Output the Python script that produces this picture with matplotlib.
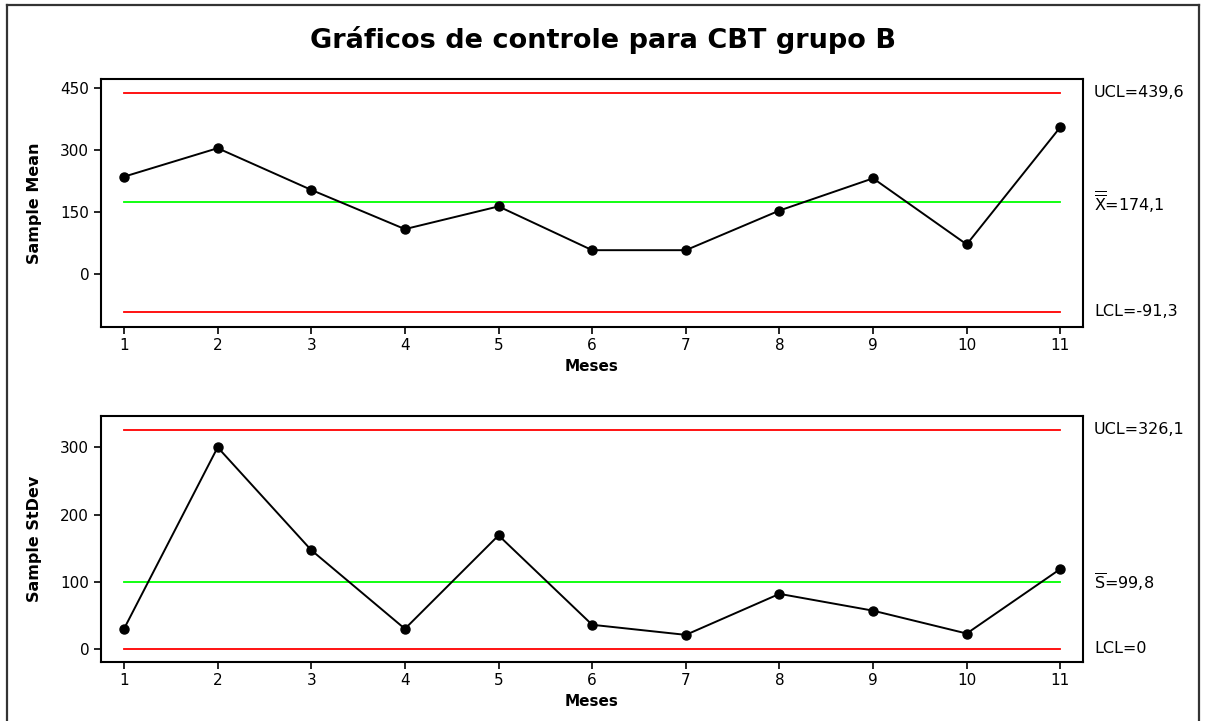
import matplotlib
matplotlib.use("Agg")
import matplotlib.pyplot as plt
from matplotlib.lines import Line2D

plt.rcParams["font.family"] = ["DejaVu Sans"]
plt.rcParams["mathtext.fontset"] = "dejavusans"

# ── Data ──────────────────────────────────────────────────────────────────────
meses = list(range(1, 12))
sample_mean = [236, 305, 204, 109, 164, 58, 58, 154, 232, 72, 356]
sample_sd = [30, 300, 147, 30, 169, 36, 21, 82, 57, 23, 119]

xbar_lim = {"UCL": 439.6, "CL": 174.1, "LCL": -91.3}
s_lim = {"UCL": 326.1, "CL": 99.8, "LCL": 0}

xbar_labels = ["UCL=439,6", r"$\overline{\overline{\mathrm{X}}}$=174,1", "LCL=-91,3"]
s_labels = ["UCL=326,1", r"$\overline{\mathrm{S}}$=99,8", "LCL=0"]

W, H = 1206, 721
fig = plt.figure(figsize=(W / 100, H / 100), dpi=100)

# outer frame (open at bottom)
for xs, ys in [([7 / W, 7 / W], [0, 1 - 5 / H]),
               ([7 / W, 1199 / W], [1 - 5 / H, 1 - 5 / H]),
               ([1199 / W, 1199 / W], [0, 1 - 5 / H])]:
    fig.add_artist(Line2D(xs, ys, color="#333333", lw=1.6))

fig.text(0.5, 1 - 40 / H, "Gráficos de controle para CBT grupo B",
         ha="center", va="center", fontsize=19.5, fontweight="bold")


def control_panel(ax, vals, lims, labels, ylabel, yticks, ylim):
    ax.plot([meses[0], meses[-1]], [lims["UCL"]] * 2, color="#ff0000", lw=1.3)
    ax.plot([meses[0], meses[-1]], [lims["CL"]] * 2, color="#00ff00", lw=1.3)
    ax.plot([meses[0], meses[-1]], [lims["LCL"]] * 2, color="#ff0000", lw=1.3)
    ax.plot(meses, vals, color="black", lw=1.4, marker="o", markersize=6.5)
    ax.set_xlim(0.754, 11.242)
    ax.set_ylim(*ylim)
    ax.set_xticks(meses)
    ax.set_yticks(yticks)
    ax.tick_params(axis="both", direction="out", length=5, width=1.2,
                   labelsize=11, colors="black")
    ax.tick_params(axis="x", pad=3)
    for s in ax.spines.values():
        s.set_linewidth(1.5)
    ax.set_xlabel("Meses", fontsize=11, fontweight="bold", labelpad=4)
    ax.set_ylabel(ylabel, fontsize=11.5, fontweight="bold", labelpad=13)
    for key, lab in zip(["UCL", "CL", "LCL"], labels):
        ax.annotate(lab, xy=(1, lims[key]), xycoords=("axes fraction", "data"),
                    xytext=(11, 0), textcoords="offset pixels",
                    ha="left", va="center", fontsize=11.5, annotation_clip=False)


ax1 = fig.add_axes([101 / W, 1 - 327 / H, 982 / W, 248 / H])
control_panel(ax1, sample_mean, xbar_lim, xbar_labels, "Sample Mean",
              [0, 150, 300, 450], (-128, 472.5))

ax2 = fig.add_axes([101 / W, 1 - 662.3 / H, 982 / W, 246.6 / H])
control_panel(ax2, sample_sd, s_lim, s_labels, "Sample StDev",
              [0, 100, 200, 300], (-19.8, 347))

fig.savefig("out.png", dpi=100)
